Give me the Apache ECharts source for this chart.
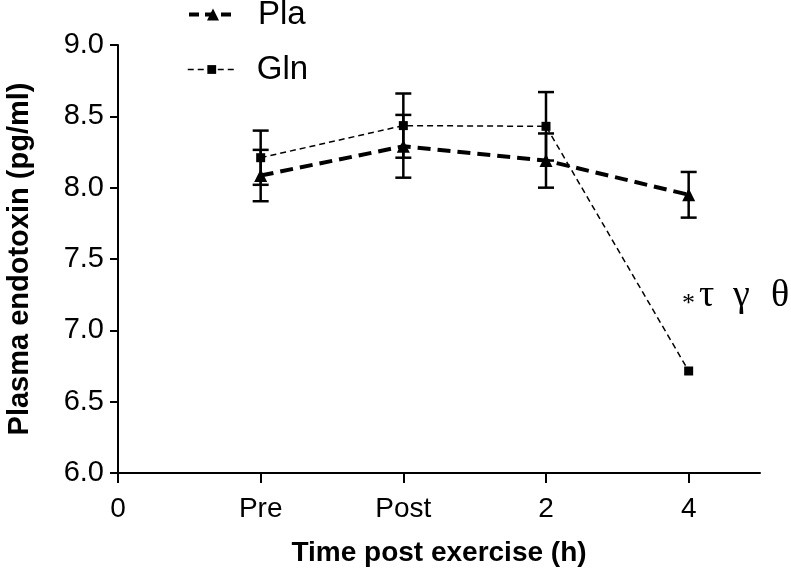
<!DOCTYPE html>
<html><head><meta charset="utf-8">
<script src="https://cdn.jsdelivr.net/npm/echarts@6/dist/echarts.min.js"></script>
<style>html,body{margin:0;padding:0;background:#fff}#c{width:791px;height:574px}</style>
</head><body><div id="c"></div>
<script>
var xPositions = [1, 2, 3, 4];
var xTickLabels = ['0', 'Pre', 'Post', '2', '4'];
var plaMean = [8.085, 8.29, 8.19, 7.95];
var plaErr = [0.18, 0.22, 0.19, 0.16];
var glnMean = [8.21, 8.435, 8.43, 6.715];
var glnErr = [0.19, 0.225, 0.24, 0];
var annotationSymbols = ['*', 'τ', 'γ', 'θ'];

function pairs(xs, ys){ return xs.map(function(x,i){ return [x, ys[i]]; }); }
function errData(xs, m, e){ return xs.map(function(x,i){ return [x, m[i]-e[i], m[i]+e[i]]; }); }

function errRender(params, api){
  var x = api.value(0), lo = api.value(1), hi = api.value(2);
  if (hi - lo <= 0) return null;
  var p1 = api.coord([x, hi]), p2 = api.coord([x, lo]);
  var w = 8;
  var st = {stroke:'#000', lineWidth:2.5};
  return {type:'group', children:[
    {type:'line', shape:{x1:p1[0],y1:p1[1],x2:p2[0],y2:p2[1]}, style:st},
    {type:'line', shape:{x1:p1[0]-w,y1:p1[1],x2:p1[0]+w,y2:p1[1]}, style:st},
    {type:'line', shape:{x1:p2[0]-w,y1:p2[1],x2:p2[0]+w,y2:p2[1]}, style:st}
  ]};
}

var chart = echarts.init(document.getElementById('c'), null, {renderer:'canvas'});
var font = 'Liberation Sans, Arial, sans-serif';
var serif = 'Liberation Serif, Times New Roman, serif';
var legendText = {fontFamily:font, fontSize:33, color:'#000', padding:[0,0,0,16]};
chart.setOption({
  animation:false,
  backgroundColor:'#fff',
  grid:{left:118, right:31, top:45, bottom:101, containLabel:false, outerBoundsMode:'none'},
  legend:[{
    orient:'vertical', left:187, top:-2, padding:0, itemWidth:48, itemHeight:15,
    textStyle:legendText,
    data:[{name:'Pla', lineStyle:{width:4, type:[10,6], color:'#000'}}]
  },{
    orient:'vertical', left:187, top:53, padding:0, itemWidth:48, itemHeight:11,
    textStyle:legendText,
    data:[{name:'Gln', lineStyle:{width:1.5, type:[6,4], color:'#000'}}]
  }],
  xAxis:{
    type:'value', min:0, max:4.5,
    axisLine:{lineStyle:{color:'#000', width:2}},
    axisTick:{customValues:[0,1,2,3,4], length:10, lineStyle:{color:'#000', width:2}},
    axisLabel:{customValues:[0,1,2,3,4], formatter:function(v){ return xTickLabels[Math.round(v)]; },
      color:'#000', fontFamily:font, fontSize:28, margin:22},
    splitLine:{show:false},
    name:'Time post exercise (h)', nameLocation:'middle', nameGap:66,
    nameTextStyle:{fontFamily:font, fontSize:28, fontWeight:'bold', color:'#000'}
  },
  yAxis:{
    type:'value', min:6, max:9, interval:0.5,
    axisLine:{show:true, lineStyle:{color:'#000', width:2}},
    axisTick:{show:true, length:8, lineStyle:{color:'#000', width:2}},
    axisLabel:{formatter:function(v){ return v.toFixed(1); }, color:'#000', fontFamily:font, fontSize:29, margin:14},
    splitLine:{show:false},
    name:'Plasma endotoxin (pg/ml)', nameLocation:'middle', nameGap:84,
    nameTextStyle:{fontFamily:font, fontSize:29, fontWeight:'bold', color:'#000'}
  },
  graphic:[
    {type:'text', left:682, top:291, style:{text:annotationSymbols[0], font:'26px ' + serif, fill:'#000'}},
    {type:'text', left:699, top:277, style:{text:annotationSymbols[1], font:'38px ' + serif, fill:'#000'}},
    {type:'text', left:733, top:277, style:{text:annotationSymbols[2], font:'38px ' + serif, fill:'#000'}},
    {type:'text', left:771, top:277, style:{text:annotationSymbols[3], font:'38px ' + serif, fill:'#000'}}
  ],
  series:[
    {name:'Gln', type:'line', data:pairs(xPositions, glnMean), z:3,
     symbol:'rect', symbolSize:9, itemStyle:{color:'#000'},
     lineStyle:{color:'#000', width:1.5, type:[6,4]}},
    {name:'Pla', type:'line', data:pairs(xPositions, plaMean), z:4,
     symbol:'triangle', symbolSize:13, itemStyle:{color:'#000'},
     lineStyle:{color:'#000', width:4, type:[13,7]}},
    {name:'PlaErr', type:'custom', renderItem:errRender, data:errData(xPositions, plaMean, plaErr), z:5, encode:{x:0, y:[1,2]}},
    {name:'GlnErr', type:'custom', renderItem:errRender, data:errData(xPositions, glnMean, glnErr), z:5, encode:{x:0, y:[1,2]}}
  ]
});
</script></body></html>
